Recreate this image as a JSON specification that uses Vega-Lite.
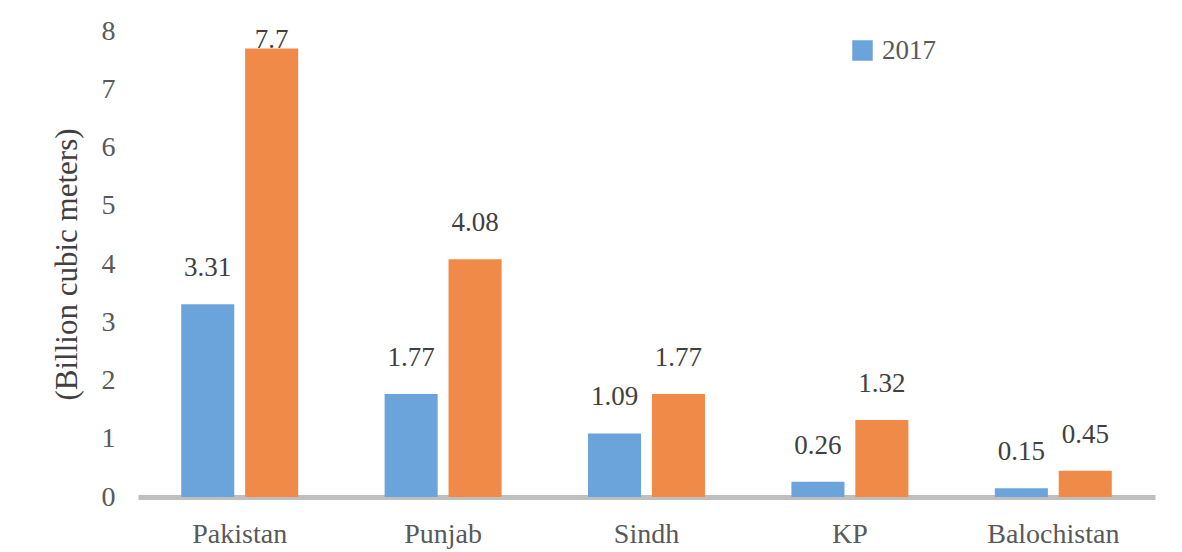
{
  "$schema": "https://vega.github.io/schema/vega-lite/v6.json",
  "autosize": {"type": "none"},
  "padding": {"left": 138, "top": 31, "right": 27, "bottom": 55},
  "width": 1017,
  "height": 466,
  "background": "white",
  "config": {
    "font": "Liberation Serif",
    "axis": {"labelFont": "Liberation Serif", "titleFont": "Liberation Serif"},
    "legend": {"labelFont": "Liberation Serif"},
    "text": {"font": "Liberation Serif"},
    "view": {"stroke": null}
  },
  "data": {
    "values": [
      {"region": "Pakistan", "year": "2017", "value": 3.31},
      {"region": "Pakistan", "year": "2025", "value": 7.7},
      {"region": "Punjab", "year": "2017", "value": 1.77},
      {"region": "Punjab", "year": "2025", "value": 4.08},
      {"region": "Sindh", "year": "2017", "value": 1.09},
      {"region": "Sindh", "year": "2025", "value": 1.77},
      {"region": "KP", "year": "2017", "value": 0.26},
      {"region": "KP", "year": "2025", "value": 1.32},
      {"region": "Balochistan", "year": "2017", "value": 0.15},
      {"region": "Balochistan", "year": "2025", "value": 0.45}
    ]
  },
  "transform": [
    {"calculate": "min(datum.value + 0.62, 7.85)", "as": "labelPos"}
  ],
  "encoding": {
    "x": {
      "field": "region",
      "type": "nominal",
      "sort": ["Pakistan", "Punjab", "Sindh", "KP", "Balochistan"],
      "scale": {"paddingInner": 0.425, "paddingOuter": 0.2125},
      "axis": {
        "title": null,
        "labelAngle": 0,
        "labelFont": "Liberation Serif",
        "labelFontSize": 28,
        "labelColor": "#595959",
        "labelPadding": 23,
        "ticks": false,
        "domainColor": "#bfbfbf",
        "domainWidth": 5
      }
    },
    "xOffset": {
      "field": "year",
      "type": "nominal",
      "scale": {"paddingInner": 0.17, "paddingOuter": 0}
    }
  },
  "layer": [
    {
      "mark": {"type": "bar"},
      "encoding": {
        "y": {
          "field": "value",
          "type": "quantitative",
          "scale": {"domain": [0, 8], "nice": false},
          "axis": {
            "title": "(Billion cubic meters)",
            "titleFont": "Liberation Serif",
            "titleFontSize": 31,
            "titleFontWeight": "normal",
            "titleColor": "#404040",
            "titlePadding": 18,
            "values": [0, 1, 2, 3, 4, 5, 6, 7, 8],
            "format": "d",
            "labelFont": "Liberation Serif",
            "labelFontSize": 28,
            "labelColor": "#595959",
            "labelPadding": 23,
            "ticks": false,
            "domain": false,
            "grid": false
          }
        },
        "color": {
          "field": "year",
          "type": "nominal",
          "scale": {"domain": ["2017", "2025"], "range": ["#6ba4db", "#f08a48"]},
          "legend": {
            "values": ["2017"],
            "title": null,
            "orient": "none",
            "legendX": 711,
            "legendY": 6,
            "symbolType": "square",
            "symbolSize": 420,
            "symbolStrokeWidth": 0,
            "symbolOpacity": 1,
            "labelFont": "Liberation Serif",
            "labelFontSize": 27,
            "labelColor": "#595959",
            "labelOffset": 6
          }
        }
      }
    },
    {
      "mark": {"type": "text", "font": "Liberation Serif", "fontSize": 27, "color": "#404040", "baseline": "middle"},
      "encoding": {
        "y": {"field": "labelPos", "type": "quantitative"},
        "text": {"field": "value", "type": "quantitative"}
      }
    }
  ]
}
